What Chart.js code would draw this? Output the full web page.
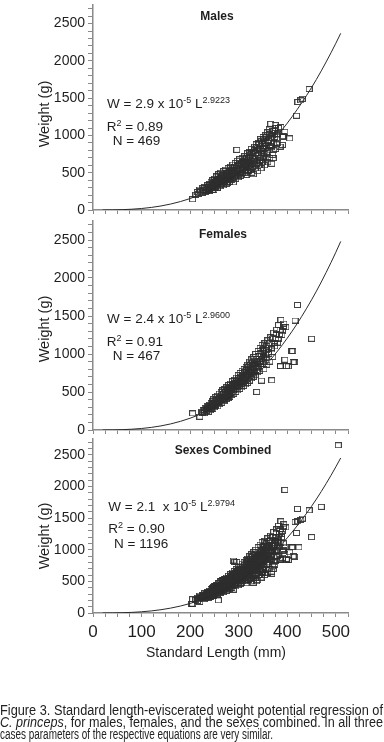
<!DOCTYPE html>
<html><head><meta charset="utf-8">
<script src="https://cdn.jsdelivr.net/npm/chart.js@4.4.1/dist/chart.umd.min.js"></script>
<style>
html,body{margin:0;padding:0;background:#fff;}
body{width:384px;height:742px;position:relative;overflow:hidden;}
canvas{position:absolute;left:0;}
svg{position:absolute;left:0;top:0;pointer-events:none;}
text{font-family:"Liberation Sans",Arial,sans-serif;fill:#1e1e1e;}
text.cap{font-family:"Liberation Sans Narrow","Liberation Sans",Arial,sans-serif;fill:#222;}
</style></head><body>
<canvas id="c1"></canvas><canvas id="c2"></canvas><canvas id="c3"></canvas>
<svg width="384" height="742" xmlns="http://www.w3.org/2000/svg">
  <text x="217" y="20.3" text-anchor="middle" font-size="12" font-weight="bold">Males</text>
  <text x="223" y="237.6" text-anchor="middle" font-size="12" font-weight="bold">Females</text>
  <text x="223" y="453.6" text-anchor="middle" font-size="12" font-weight="bold">Sexes Combined</text>

  <text x="107" y="108.3" font-size="13.5" style="white-space:pre">W = 2.9 x 10<tspan font-size="9" dy="-5">-5</tspan><tspan dy="5"> L</tspan><tspan font-size="9" dy="-5">2.9223</tspan></text>
  <text x="106.7" y="130.7" font-size="13.5" style="white-space:pre">R<tspan font-size="9" dy="-5">2</tspan><tspan dy="5"> = 0.89</tspan></text>
  <text x="112.7" y="145" font-size="13.5" style="white-space:pre">N = 469</text>

  <text x="107" y="323.3" font-size="13.5" style="white-space:pre">W = 2.4 x 10<tspan font-size="9" dy="-5">-5</tspan><tspan dy="5"> L</tspan><tspan font-size="9" dy="-5">2.9600</tspan></text>
  <text x="106.7" y="346" font-size="13.5" style="white-space:pre">R<tspan font-size="9" dy="-5">2</tspan><tspan dy="5"> = 0.91</tspan></text>
  <text x="112.7" y="360" font-size="13.5" style="white-space:pre">N = 467</text>

  <text x="108.3" y="510.7" font-size="13.5" style="white-space:pre">W = 2.1  x 10<tspan font-size="9" dy="-5">-5</tspan><tspan dy="5"> L</tspan><tspan font-size="9" dy="-5">2.9794</tspan></text>
  <text x="108.3" y="533.3" font-size="13.5" style="white-space:pre">R<tspan font-size="9" dy="-5">2</tspan><tspan dy="5"> = 0.90</tspan></text>
  <text x="114" y="548.3" font-size="13.5" style="white-space:pre">N = 1196</text>

  <text transform="translate(44,114) rotate(-90)" text-anchor="middle" dominant-baseline="central" font-size="14.5">Weight (g)</text>
  <text transform="translate(44,329) rotate(-90)" text-anchor="middle" dominant-baseline="central" font-size="14.5">Weight (g)</text>
  <text transform="translate(44,536) rotate(-90)" text-anchor="middle" dominant-baseline="central" font-size="14.5">Weight (g)</text>

  <text x="216" y="657" text-anchor="middle" font-size="14">Standard Length (mm)</text>

  <text class="cap" x="0" y="714.5" font-size="14" textLength="383" lengthAdjust="spacingAndGlyphs">Figure 3. Standard length-eviscerated weight potential regression of</text>
  <text class="cap" x="0" y="726.5" font-size="14" textLength="383" lengthAdjust="spacingAndGlyphs"><tspan font-style="italic">C. princeps</tspan>, for males, females, and the sexes combined. In all three</text>
  <text class="cap" x="0" y="738.5" font-size="14" textLength="273" lengthAdjust="spacingAndGlyphs">cases parameters of the respective equations are very similar.</text>
</svg>
<script>
// ---------- data ----------
const X_TICKS = [0,25,50,75,100,125,150,175,200,225,250,275,300,325,350,375,400,425,450,475,500,525];
const X_LABELS = [0,100,200,300,400,500];
const Y_TICKS = [0,100,200,300,400,500,600,700,800,900,1000,1100,1200,1300,1400,1500,1600,1700,1800,1900,2000,2100,2200,2300,2400,2500,2600,2700];
const Y_LABELS = [0,500,1000,1500,2000,2500];

const CURVE_L = [20,40,60,80,100,120,140,160,180,200,220,240,260,280,300,320,340,360,380,400,420,440,460,480,500,510];
const MALE_FIT = [0.2,1.4,4.6,10.6,20.3,34.5,54.2,80.1,113,153.7,203.1,261.8,330.9,411.1,502.6,607.1,724.7,856.4,1003,1165,1345,1539,1752,1986,2237,2370];
const FEMALE_FIT = [0.2,1.3,4.4,10.3,20.0,34.2,54.0,80.3,113.7,155.3,205.9,266.5,337.8,420.5,515.7,624.2,747.4,885.0,1038.5,1209,1396,1603,1827,2073,2339,2481];
const COMBINED_FIT = [0.2,1.3,4.2,9.8,19.1,32.9,52.0,77.5,110.1,150.7,200.1,259.3,329.3,410.4,504.2,610.9,732.2,867.9,1019,1188,1375,1578,1801,2045,2310,2450];

const MALES = [
[205,144],[212,205],[215,240],[218,220],[220,275],[222,250],[225,230],[226,290],[228,265],[230,310],[231,245],
[233,300],[235,270],[236,330],[238,285],[240,350],[240,260],[242,310],[243,380],[245,290],[246,340],[247,400],[248,320],[249,270],[250,360],
[251,420],[252,310],[253,380],[254,340],[255,450],[256,300],[257,400],[258,360],[259,480],[260,330],[261,420],[262,380],[263,500],[264,350],[265,440],[266,400],[267,470],[268,330],[269,520],[270,420],
[271,380],[272,460],[273,540],[274,400],[275,490],[276,360],[277,440],[278,560],[279,420],[280,500],[281,380],[282,460],[283,580],[284,430],[285,520],[286,400],[287,480],[288,610],[289,370],[290,540],
[291,450],[292,500],[293,630],[294,420],[295,560],[296,807],[296,480],[297,660],[298,520],[299,440],[300,590],[301,500],[302,680],[303,460],[304,560],[305,620],[306,480],[307,700],[308,540],[309,600],[310,650],
[311,500],[312,720],[313,580],[314,640],[315,470],[316,690],[317,560],[318,760],[319,620],[320,520],[321,700],[322,600],[323,780],[324,540],[325,660],[326,820],[327,500],[328,720],[329,620],[330,480],
[331,760],[332,660],[333,850],[334,560],[335,700],[336,880],[337,620],[338,790],[339,520],[340,740],[341,900],[342,600],[343,820],[344,700],[345,950],[346,560],[347,760],[348,880],[349,640],[350,980],
[351,720],[352,820],[353,600],[354,900],[355,1000],[356,680],[357,860],[358,760],[359,1040],[360,640],[361,920],[362,800],[363,1080],[364,700],[365,960],[366,1156],[367,840],[368,620],[369,1000],[370,740],
[371,698],[372,900],[373,1060],[375,1140],[376,820],[378,1000],[380,900],[382,1100],[385,851],[387,1113],[390,982],[390,873],[392,990],[395,1050],[405,960],
[419,1265],[422,1449],[428,1470],[431,1492],[445,1623],
[234,260],[237,310],[239,280],[241,330],[244,300],[246,270],[248,360],[250,300],[252,340],[254,390],[256,350],[257,290],[259,410],[261,370],[262,320],[264,430],[266,370],[268,460],[270,380],[272,420],
[274,480],[275,350],[277,500],[278,410],[280,450],[282,520],[284,400],[285,470],[287,540],[288,430],[290,500],[292,580],[293,460],[295,520],[297,600],[298,470],[300,540],[302,620],[303,500],[305,560],
[307,640],[308,500],[310,580],[312,660],[313,530],[315,600],[317,700],[318,520],[320,640],[322,740],[323,560],[325,700],[327,780],[328,580],[330,680],[332,800],[333,600],[335,760],[337,840],[338,640],
[340,800],[342,880],[343,660],[345,820],[347,920],[348,700],[350,860],[352,950],[354,760],[356,900],[358,980],[360,780],[362,940],[364,1020],[366,860],[368,960],[370,1060],[372,800],[374,980],[376,1100],[378,880],[380,1020]
];

const FEMALES = [
[205,218],[220,175],[224,240],[227,260],[229,220],[231,290],[233,250],[235,310],[236,270],[238,240],[239,330],[240,290],[242,260],[243,350],[244,300],[246,380],[247,280],[248,330],[249,410],[250,300],
[251,360],[252,430],[253,320],[254,390],[255,350],[256,450],[257,310],[258,400],[259,370],[260,480],[261,340],[262,420],[263,390],[264,500],[265,360],[266,440],[267,520],[268,400],[269,470],[270,380],
[271,540],[272,430],[273,490],[274,410],[275,560],[276,450],[277,510],[278,420],[279,590],[280,470],[281,530],[282,440],[283,610],[284,490],[285,550],[286,460],[287,640],[288,520],[289,580],[290,480],
[291,660],[292,540],[293,600],[294,500],[295,690],[296,560],[297,620],[298,520],[299,720],[300,580],[301,640],[302,540],[303,750],[304,600],[305,680],[306,560],[307,780],[308,630],[309,700],[310,580],
[311,800],[312,660],[313,720],[314,600],[315,830],[316,690],[317,760],[318,620],[319,860],[320,710],[321,780],[322,650],[323,900],[324,740],[325,800],[326,680],[327,930],[328,760],[329,840],[330,700],
[331,960],[332,780],[333,870],[334,720],[335,1000],[336,810],[337,501],[338,900],[339,760],[340,1040],[341,840],[342,940],[343,780],[344,1080],[345,870],[346,980],[347,650],[348,1120],[349,900],[350,1010],
[352,800],[354,1140],[356,950],[357,1047],[358,860],[360,1180],[362,1000],[364,900],[366,1220],[368,654],[368,1060],[370,960],[372,1280],[374,1100],[376,1200],[378,1320],[380,1150],[382,1380],[384,1250],
[385,842],[386,838],[387,1449],[390,1300],[393,1400],[395,925],[397,1352],[398,842],[402,838],[409,1038],[411,1038],[412,895],[415,890],[416,1440],[421,1645],[450,1200],
[226,230],[230,260],[234,280],[237,300],[241,320],[243,280],[245,340],[247,310],[250,360],[252,330],[254,410],[256,380],[258,350],[260,420],[262,390],[264,450],[266,410],[268,480],[270,440],[272,500],
[274,460],[276,530],[278,490],[280,550],[282,510],[284,570],[286,530],[288,600],[290,550],[292,620],[294,580],[296,650],[298,600],[300,680],[302,620],[304,700],[306,650],[308,730],[310,680],[312,760],
[314,700],[316,790],[318,730],[320,820],[322,760],[324,850],[326,790],[328,880],[330,820],[332,910],[334,850],[336,940],[338,870],[340,970],[342,900],[344,1000],[346,930],[348,1040],[350,960],[352,1060],
[355,990],[358,1100],[361,1020],[364,1140],[367,1080],[370,1200],[373,1140],[377,1260],[381,1200],[385,1320],[389,1250],[392,1360]
];

const UNSEXED = [
[505,2652],[395,1945],[470,1678],[289,829],[292,810],[203,146],[258,200],[398,855],[424,1038],
[215,190],[222,230],[228,280],[232,240],[236,300],[240,270],[244,330],[248,300],[252,370],[256,330],[260,400],[264,360],[268,440],[272,400],[276,480],[280,440],[284,520],[288,470],[292,560],[296,510],
[300,600],[304,550],[308,640],[312,590],[316,690],[320,630],[324,740],[328,680],[332,790],[336,720],[340,840],[344,770],[348,900],[352,820],[356,960],[360,870],[364,1020],[368,920],[372,1080],[376,980],
[380,1140],[384,1040],[388,1200],[392,1100],[362,700],[374,760],[346,640],[330,560]
];
const COMBINED = MALES.concat(FEMALES, UNSEXED);

// ---------- drawing ----------
function makeSquare(){
  const c = document.createElement('canvas');
  c.width = 7; c.height = 6;
  const g = c.getContext('2d');
  g.strokeStyle = 'rgba(45,45,45,0.9)';
  g.lineWidth = 1;
  g.strokeRect(0.5, 0.5, 6, 5);
  return c;
}
const SQUARE = makeSquare();
const AXIS = '#8a8a8a';
const FONT = '"Liberation Sans", Arial, sans-serif';

function panel(id, top, height, padTop, padBottom, xAxisH, pts, fit, showX){
  const cv = document.getElementById(id);
  cv.width = 384; cv.height = height;
  cv.style.top = top + 'px';
  cv.style.width = '384px'; cv.style.height = height + 'px';
  new Chart(cv, {
    type: 'scatter',
    data: {
      datasets: [
        { data: CURVE_L.map((x,i)=>({x:x, y:fit[i]})), showLine: true, borderColor: '#2a2a2a', borderWidth: 1,
          pointRadius: 0, cubicInterpolationMode: 'monotone', fill: false },
        { data: pts.map(p=>({x:p[0], y:p[1]})), showLine: false, pointStyle: SQUARE, pointRadius: 3 }
      ]
    },
    options: {
      responsive: false, animation: false, devicePixelRatio: 1, events: [],
      layout: { padding: { left: 0, right: 36, top: padTop, bottom: padBottom } },
      plugins: { legend: { display: false }, tooltip: { enabled: false } },
      scales: {
        x: {
          type: 'linear', min: 0, max: 525,
          afterBuildTicks: s => { s.ticks = X_TICKS.map(v => ({value: v})); },
          afterFit: s => { s.height = xAxisH; s.paddingLeft = 0; s.paddingRight = 0; },
          ticks: { display: showX, autoSkip: false, maxRotation: 0, padding: 5, color: '#1e1e1e',
                   font: { family: FONT, size: 17 },
                   callback: v => X_LABELS.includes(v) ? String(v) : '' },
          grid: { display: true, drawOnChartArea: false, drawTicks: true, tickLength: 4, color: AXIS, lineWidth: 1 },
          border: { display: true, color: AXIS, width: 1.5 }
        },
        y: {
          type: 'linear', min: 0, max: 2750,
          afterBuildTicks: s => { s.ticks = Y_TICKS.map(v => ({value: v})); },
          afterFit: s => { s.width = 93; s.paddingTop = 0; s.paddingBottom = 0; },
          ticks: { autoSkip: false, padding: 3, color: '#1e1e1e', font: { family: FONT, size: 14 },
                   callback: v => Y_LABELS.includes(v) ? String(v) : '' },
          grid: { display: true, drawOnChartArea: false, drawTicks: true, tickLength: 5, color: AXIS, lineWidth: 1 },
          border: { display: true, color: AXIS, width: 1.5 }
        }
      }
    }
  });
}
panel('c1', 0, 218, 0, 3, 5, MALES, MALE_FIT, false);
panel('c2', 216, 222, 4, 3, 5, FEMALES, FEMALE_FIT, false);
panel('c3', 434, 236, 4, 5, 52, COMBINED, COMBINED_FIT, true);
</script>
</body></html>
